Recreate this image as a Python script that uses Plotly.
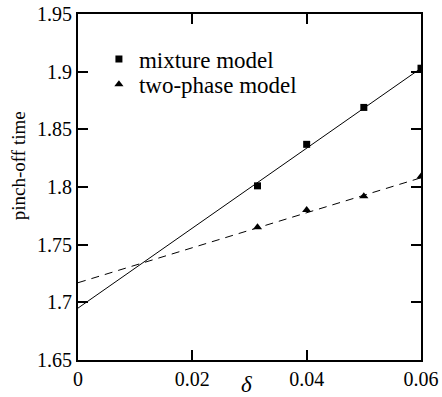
import plotly.graph_objects as go

delta = [0.0314, 0.04, 0.05, 0.06]
mixture = [1.801, 1.837, 1.869, 1.903]
two_phase = [1.765, 1.780, 1.792, 1.809]

fit_x = [0.0, 0.06]
mixture_fit = [1.695, 1.903]
two_phase_fit = [1.717, 1.808]

x_ticks = [0, 0.02, 0.04, 0.06]
x_tick_labels = ["0", "0.02", "0.04", "0.06"]
y_ticks = [1.65, 1.7, 1.75, 1.8, 1.85, 1.9, 1.95]
y_tick_labels = ["1.65", "1.7", "1.75", "1.8", "1.85", "1.9", "1.95"]

font = "Liberation Serif"

fig = go.Figure()
fig.add_trace(go.Scatter(x=fit_x, y=mixture_fit, mode="lines",
                         line=dict(color="black", width=1), showlegend=False, hoverinfo="skip"))
fig.add_trace(go.Scatter(x=fit_x, y=two_phase_fit, mode="lines",
                         line=dict(color="black", width=1, dash="8px,6px"), showlegend=False, hoverinfo="skip"))
fig.add_trace(go.Scatter(x=delta, y=mixture, mode="markers", name="mixture model",
                         marker=dict(symbol="square", size=7, color="black"), legend="legend"))
fig.add_trace(go.Scatter(x=delta, y=two_phase, mode="markers", name="two-phase model",
                         marker=dict(symbol="triangle-up", size=8, color="black"), legend="legend2"))

axis_common = dict(showline=True, linecolor="black", linewidth=2, mirror="allticks",
                   ticks="inside", ticklen=10, tickwidth=2, tickcolor="black",
                   showgrid=False, zeroline=False, automargin=False,
                   tickfont=dict(family=font, size=20, color="black"))

legend_common = dict(xanchor="left", yanchor="middle", bgcolor="rgba(0,0,0,0)",
                     font=dict(family=font, size=23, color="black"), itemwidth=30)

fig.update_layout(
    width=442, height=397,
    margin=dict(l=78, r=21, t=14, b=37),
    paper_bgcolor="white", plot_bgcolor="white",
    font=dict(family=font, size=20, color="black"),
    xaxis=dict(range=[0, 0.06], tickvals=x_ticks, ticktext=x_tick_labels, **axis_common),
    yaxis=dict(range=[1.65, 1.95], tickvals=y_ticks, ticktext=y_tick_labels, **axis_common),
    legend=dict(x=0.061, y=0.870, **legend_common),
    legend2=dict(x=0.061, y=0.797, **legend_common),
    annotations=[
        dict(text="pinch-off time", xref="paper", yref="paper", x=-0.175, y=0.563,
             xanchor="center", yanchor="middle", textangle=-90, showarrow=False,
             font=dict(family=font, size=19, color="#000000")),
        dict(text="<i>δ</i>", xref="paper", yref="paper", x=0.49, y=-0.072,
             xanchor="center", yanchor="middle", showarrow=False,
             font=dict(family=font, size=23, color="#000000")),
    ],
)

fig.write_html("out.html", config={"displayModeBar": False},
               post_script="document.body.style.margin='0';")
